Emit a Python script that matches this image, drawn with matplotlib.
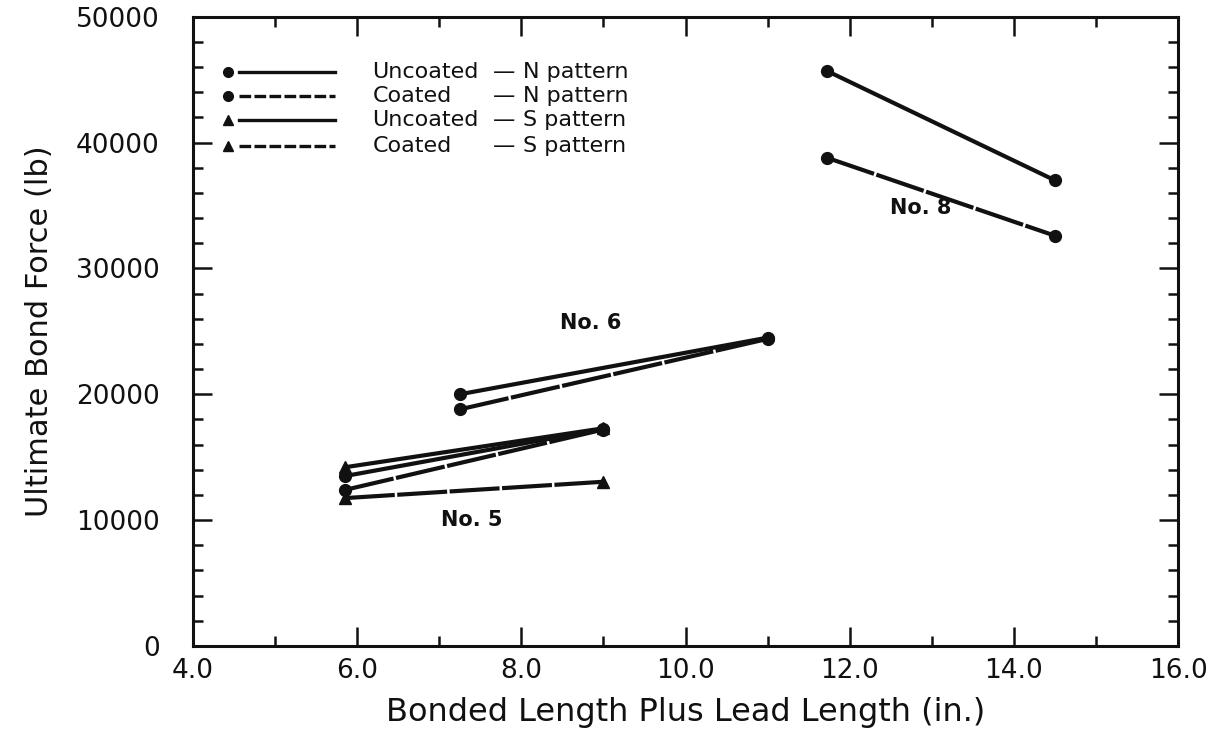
import matplotlib
matplotlib.use("Agg")
import matplotlib.pyplot as plt
from matplotlib.ticker import MultipleLocator

# ---------------- data ----------------
x_no5 = [5.85, 9.0]
x_no6 = [7.25, 11.0]
x_no8 = [11.72, 14.5]

uncoated_N_no5 = [13500, 17250]
coated_N_no5 = [12400, 17200]
uncoated_S_no5 = [14200, 17300]
coated_S_no5 = [11750, 13050]

uncoated_N_no6 = [20000, 24500]
coated_N_no6 = [18800, 24400]

uncoated_N_no8 = [45700, 37000]
coated_N_no8 = [38800, 32600]

legend_types = ["Uncoated", "Coated", "Uncoated", "Coated"]
legend_patterns = ["N pattern", "N pattern", "S pattern", "S pattern"]
legend_markers = ["o", "o", "^", "^"]
legend_coated = [False, True, False, True]

bar_labels = ["No. 5", "No. 6", "No. 8"]
bar_label_x = [7.39, 8.84, 12.86]
bar_label_y = [10050, 25650, 34800]

xlim = (4.0, 16.0)
ylim = (0, 50000)
xticks = [4.0, 6.0, 8.0, 10.0, 12.0, 14.0, 16.0]
yticks = [0, 10000, 20000, 30000, 40000, 50000]

# ---------------- figure ----------------
plt.rcParams['font.family'] = ['DejaVu Sans']
fig = plt.figure(figsize=(12.21, 7.42), dpi=100)
ax = fig.add_axes([193 / 1221, 1 - 646 / 742, (1178 - 193) / 1221, (646 - 16.7) / 742])

ink = "#111111"
lw = 3.0
ms = 8.5
solid = "-"
dashed = (0, (12, 0.6))
legend_dashed = (0, (3.5, 1.0))

series = [
    (x_no5, uncoated_N_no5, "o", solid),
    (x_no5, coated_N_no5, "o", dashed),
    (x_no5, uncoated_S_no5, "^", solid),
    (x_no5, coated_S_no5, "^", dashed),
    (x_no6, uncoated_N_no6, "o", solid),
    (x_no6, coated_N_no6, "o", dashed),
    (x_no8, uncoated_N_no8, "o", solid),
    (x_no8, coated_N_no8, "o", dashed),
]
for xs, ys, mk, ls in series:
    ax.plot(xs, ys, color=ink, lw=lw, linestyle=ls, marker=mk, markersize=ms,
            markerfacecolor=ink, markeredgecolor=ink, solid_capstyle="round")

for lab, lx, ly in zip(bar_labels, bar_label_x, bar_label_y):
    ax.text(lx, ly, lab, fontsize=15, fontweight="bold", color=ink,
            ha="center", va="center")

# legend drawn manually
row_y = [0.912, 0.874, 0.836, 0.795]
for ry, t, p, mk, c in zip(row_y, legend_types, legend_patterns, legend_markers, legend_coated):
    ax.plot([0.0355], [ry], transform=ax.transAxes, marker=mk, markersize=7,
            color=ink, linestyle="none")
    ax.plot([0.047, 0.144], [ry, ry], transform=ax.transAxes, color=ink,
            lw=2.4, linestyle=legend_dashed if c else solid)
    ax.text(0.182, ry, t, transform=ax.transAxes, fontsize=16, color=ink,
            ha="left", va="center")
    ax.text(0.304, ry, "\u2014", transform=ax.transAxes, fontsize=16, color=ink,
            ha="left", va="center")
    ax.text(0.335, ry, p, transform=ax.transAxes, fontsize=16, color=ink,
            ha="left", va="center")

ax.set_xlim(*xlim)
ax.set_ylim(*ylim)
ax.set_xticks(xticks)
ax.set_xticklabels([f"{v:.1f}" for v in xticks])
ax.set_yticks(yticks)
ax.set_yticklabels([f"{v:d}" for v in yticks])
ax.xaxis.set_minor_locator(MultipleLocator(1.0))
ax.yaxis.set_minor_locator(MultipleLocator(2000))

ax.tick_params(which="both", direction="in", top=True, right=True,
               width=1.8, color=ink)
ax.tick_params(which="major", length=14, labelsize=19, labelcolor=ink)
ax.tick_params(which="minor", length=7)
ax.tick_params(axis="x", which="major", pad=9)
ax.tick_params(axis="y", which="major", pad=24)
for s in ax.spines.values():
    s.set_linewidth(2.2)
    s.set_color(ink)

ax.set_xlabel("Bonded Length Plus Lead Length (in.)", fontsize=23, color=ink, labelpad=9)
ax.set_ylabel("Ultimate Bond Force (lb)", fontsize=22, color=ink, labelpad=16)

fig.savefig("out.png", dpi=100, facecolor="white")
